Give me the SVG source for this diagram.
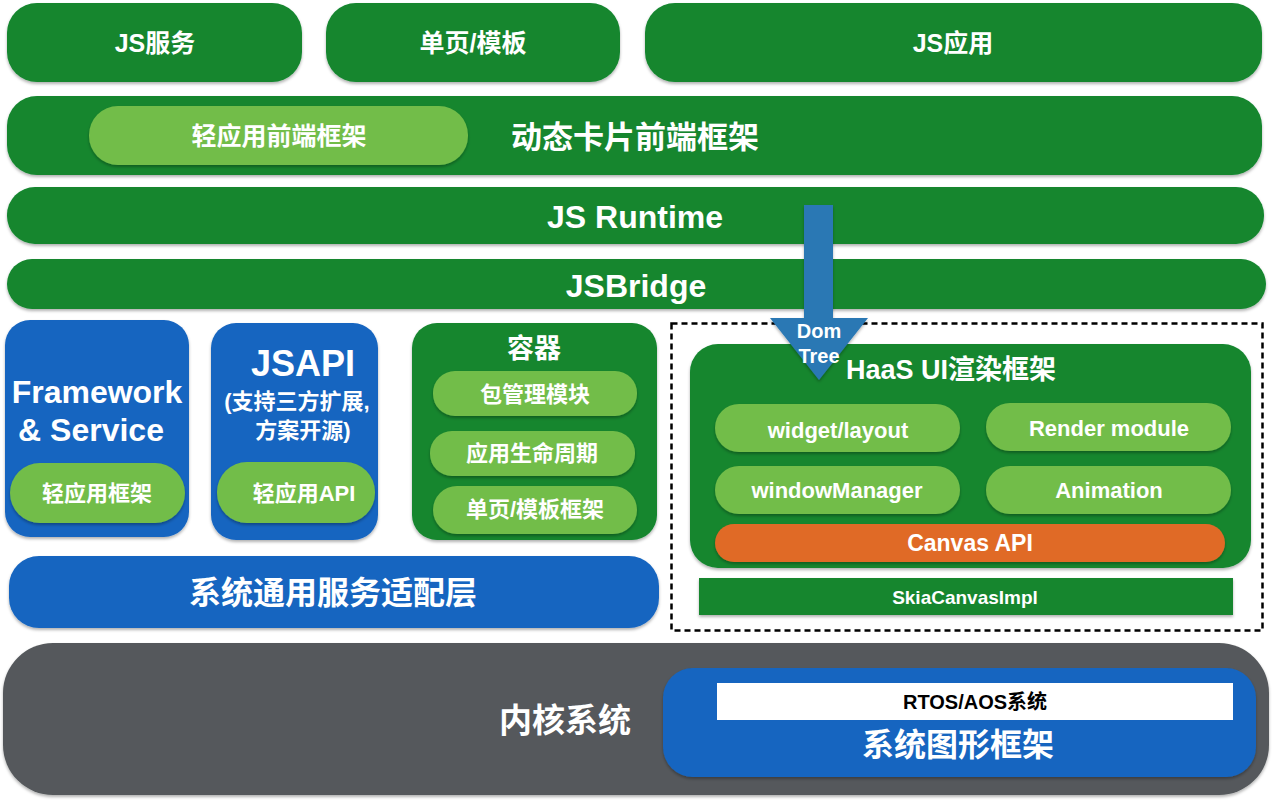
<svg xmlns="http://www.w3.org/2000/svg" width="1273" height="800" viewBox="0 0 1273 800">
<defs>
<filter id="sh" x="-5%" y="-10%" width="110%" height="125%">
<feDropShadow dx="0" dy="2" stdDeviation="1.5" flood-color="#000" flood-opacity="0.3"/>
</filter>
<style>
.g{fill:#13862f;filter:url(#sh)}
.lg{fill:#72bd4a;filter:url(#sh)}
.b{fill:#1565c0;filter:url(#sh)}
.o{fill:#e06a25;filter:url(#sh)}
.k{fill:#55595c;filter:url(#sh)}
text{font-family:"Liberation Sans","Noto Sans CJK SC",sans-serif;font-weight:bold;fill:#fff;text-anchor:middle;dominant-baseline:central}
.t22{font-size:22px}
.t25{font-size:25px}
.t32{font-size:32px}
</style>
</defs>
<rect width="1273" height="800" fill="#fff"/>
<g id="js-service"><rect class="g" x="7" y="3" width="295" height="79" rx="30"/><text class="t25" x="155" y="43">JS服务</text></g>
<g id="page-template"><rect class="g" x="326" y="3" width="294" height="79" rx="30"/><text class="t25" x="473" y="43">单页/模板</text></g>
<g id="js-app"><rect class="g" x="645" y="3" width="617" height="79" rx="30"/><text class="t25" x="953" y="43">JS应用</text></g>
<g id="card-frontend"><rect class="g" x="7" y="96" width="1255" height="79" rx="30"/>
<rect class="lg" x="89" y="106" width="379" height="59" rx="29"/><text class="t25" x="279" y="136">轻应用前端框架</text>
<text x="635" y="137" style="font-size:31px">动态卡片前端框架</text></g>
<g id="js-runtime"><rect class="g" x="7" y="187" width="1257" height="57" rx="28"/><text class="t32" x="635" y="217">JS Runtime</text></g>
<g id="jsbridge"><rect class="g" x="7" y="259" width="1259" height="50" rx="25"/><text class="t32" x="636" y="286">JSBridge</text></g>
<g id="framework-service"><rect class="b" x="5" y="320" width="184" height="217" rx="25"/>
<text x="97" y="392" style="font-size:32px">Framework</text><text x="91" y="430" style="font-size:32px">&amp; Service</text>
<rect class="lg" x="10" y="463" width="175" height="60" rx="30"/><text class="t22" x="97" y="493">轻应用框架</text></g>
<g id="jsapi"><rect class="b" x="211" y="323" width="167" height="217" rx="25"/>
<text x="303" y="363" style="font-size:36px">JSAPI</text>
<text class="t22" x="297" y="401">(支持三方扩展,</text><text class="t22" x="303" y="430">方案开源)</text>
<rect class="lg" x="217" y="462" width="158" height="61" rx="30"/><text class="t22" x="304" y="493">轻应用API</text></g>
<g id="container"><rect class="g" x="412" y="323" width="245" height="217" rx="25"/>
<text x="534" y="349" style="font-size:27px">容器</text>
<rect class="lg" x="433" y="371" width="204" height="45" rx="22"/><text class="t22" x="535" y="394">包管理模块</text>
<rect class="lg" x="430" y="431" width="205" height="45" rx="22"/><text class="t22" x="532" y="453">应用生命周期</text>
<rect class="lg" x="433" y="486" width="204" height="48" rx="24"/><text class="t22" x="535" y="509">单页/模板框架</text></g>
<g id="adapter"><rect class="b" x="9" y="556" width="650" height="72" rx="30"/><text class="t32" x="333" y="593">系统通用服务适配层</text></g>
<g id="haas-group"><rect x="671.5" y="323.5" width="591" height="307" fill="none" stroke="#000" stroke-width="2.5" stroke-dasharray="6,4"/></g>
<g id="haas-ui"><rect class="g" x="690" y="344" width="561" height="224" rx="28"/>
<text x="951" y="370" style="font-size:27px">HaaS UI渲染框架</text>
<rect class="lg" x="715" y="404" width="245" height="48" rx="24"/><text class="t22" x="838" y="430">widget/layout</text>
<rect class="lg" x="986" y="403" width="245" height="48" rx="24"/><text class="t22" x="1109" y="428">Render module</text>
<rect class="lg" x="715" y="466" width="245" height="48" rx="24"/><text class="t22" x="837" y="490">windowManager</text>
<rect class="lg" x="986" y="466" width="245" height="48" rx="24"/><text class="t22" x="1109" y="490">Animation</text>
<rect class="o" x="715" y="524" width="510" height="38" rx="19"/><text x="970" y="543" style="font-size:23px">Canvas API</text></g>
<g id="skia"><rect class="g" x="699" y="578" width="534" height="37"/><text x="965" y="597" style="font-size:19px">SkiaCanvasImpl</text></g>
<g id="kernel"><rect class="k" x="3" y="643" width="1266" height="152" rx="50"/><text x="565" y="720" style="font-size:33px">内核系统</text>
<rect class="b" x="663" y="668" width="593" height="109" rx="30"/>
<rect x="717" y="683" width="516" height="37" fill="#fff"/><text x="975" y="702" style="font-size:20px;fill:#000">RTOS/AOS系统</text>
<text class="t32" x="958" y="745">系统图形框架</text></g>
<g id="connectors">
<path d="M804 205 H833 V318 H868 L819 380 L770 318 H804 Z" fill="#2a78b4" filter="url(#sh)"/>
<text x="819" y="331" style="font-size:20px">Dom</text><text x="819" y="356" style="font-size:20px">Tree</text>
</g>
</svg>
